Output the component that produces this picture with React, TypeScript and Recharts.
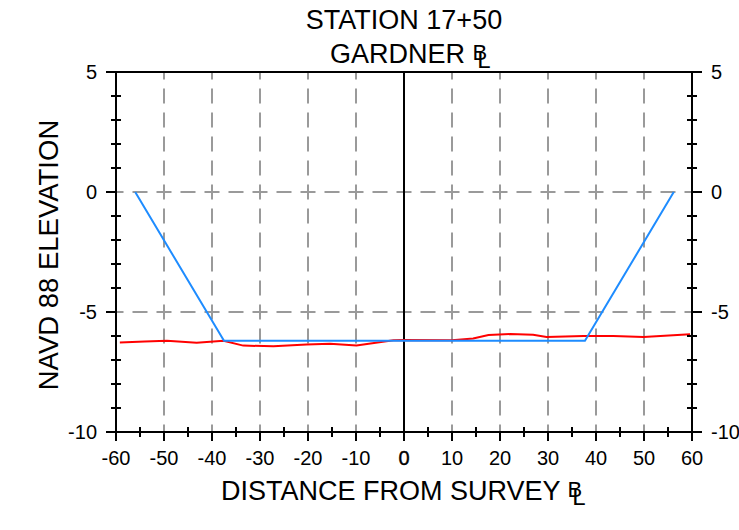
import React from 'react';
import { LineChart, Line, XAxis, YAxis, CartesianGrid, ReferenceLine } from 'recharts';

// existing ground (survey) profile
const groundDist = [-59.2, -54, -49.4, -43.2, -37.6, -33.5, -27.2, -20.3, -15.4, -9.9, -2.2, 0, 10, 14.4, 17.6, 22.1, 26.9, 29.7, 37.4, 43.6, 49.9, 59.6];
const groundElev = [-6.27, -6.23, -6.2, -6.28, -6.2, -6.4, -6.43, -6.35, -6.32, -6.4, -6.18, -6.17, -6.18, -6.1, -5.96, -5.92, -5.95, -6.04, -6.0, -6.0, -6.04, -5.93];

// design channel template
const designDist = [-56, -37.5, 37.7, 56.2];
const designElev = [0, -6.2, -6.2, 0];

const xTicks = [-60, -55, -50, -45, -40, -35, -30, -25, -20, -15, -10, -5, 0, 5, 10, 15, 20, 25, 30, 35, 40, 45, 50, 55, 60];
const yTicks = [5, 4, 3, 2, 1, 0, -1, -2, -3, -4, -5, -6, -7, -8, -9, -10];
const gridX = [-50, -40, -30, -20, -10, 10, 20, 30, 40, 50];
const gridY = [0, -5];

const ground = groundDist.map((x, i) => ({ x, y: groundElev[i] }));
const design = designDist.map((x, i) => ({ x, y: designElev[i] }));

const FONT = '"Liberation Sans", Arial, Helvetica, sans-serif';

const XTick = (props: any) => {
  const { x, y, payload } = props;
  const v = payload.value;
  const major = v % 10 === 0;
  return (
    <g>
      {major ? (
        <line x1={x} x2={x} y1={y} y2={y + 9} stroke="#000" strokeWidth={2} />
      ) : (
        <line x1={x} x2={x} y1={y - 5} y2={y + 5} stroke="#000" strokeWidth={2} />
      )}
      {major && (
        <text x={x} y={y + 33} textAnchor="middle" fontSize={20} fontFamily={FONT} fill="#000"
          stroke={v === 0 ? '#000' : 'none'} strokeWidth={v === 0 ? 0.4 : 0}>
          {v}
        </text>
      )}
    </g>
  );
};

const LeftTick = (props: any) => {
  const { x, y, payload } = props;
  const v = payload.value;
  const major = v % 5 === 0;
  return (
    <g>
      {major ? (
        <line x1={x - 10} x2={x} y1={y} y2={y} stroke="#000" strokeWidth={2} />
      ) : (
        <line x1={x - 5} x2={x + 5} y1={y} y2={y} stroke="#000" strokeWidth={2} />
      )}
      {major && (
        <text x={x - 19} y={y + 7} textAnchor="end" fontSize={20} fontFamily={FONT} fill="#000">{v}</text>
      )}
    </g>
  );
};

const RightTick = (props: any) => {
  const { x, y, payload } = props;
  const v = payload.value;
  const major = v % 5 === 0;
  return (
    <g>
      {major ? (
        <line x1={x} x2={x + 10} y1={y} y2={y} stroke="#000" strokeWidth={2} />
      ) : (
        <line x1={x - 5} x2={x + 5} y1={y} y2={y} stroke="#000" strokeWidth={2} />
      )}
      {major && (
        <text x={x + 19} y={y + 7} textAnchor="start" fontSize={20} fontFamily={FONT} fill="#000">{v}</text>
      )}
    </g>
  );
};

export default function App() {
  return (
    <div style={{ position: 'absolute', left: 0, top: 0, width: 739, height: 530, background: '#fff' }}>
      <LineChart width={739} height={530} margin={{ top: 72, right: 7, left: 56, bottom: 58 }}>
        <CartesianGrid
          yAxisId="left"
          verticalValues={gridX}
          horizontalValues={gridY}
          stroke="#9a9a9a"
          strokeWidth={2}
          strokeDasharray="15 9"
          strokeDashoffset={7.5}
        />
        <XAxis
          type="number"
          dataKey="x"
          domain={[-60, 60]}
          ticks={xTicks}
          interval={0}
          height={40}
          tickSize={0}
          tickMargin={0}
          tickLine={false}
          tick={<XTick />}
          axisLine={{ stroke: '#000', strokeWidth: 2 }}
          allowDataOverflow
        />
        <YAxis
          yAxisId="left"
          type="number"
          domain={[-10, 5]}
          ticks={yTicks}
          interval={0}
          width={60}
          tickSize={0}
          tickMargin={0}
          tickLine={false}
          tick={<LeftTick />}
          axisLine={{ stroke: '#000', strokeWidth: 2 }}
          allowDataOverflow
        />
        <YAxis
          yAxisId="right"
          orientation="right"
          type="number"
          domain={[-10, 5]}
          ticks={yTicks}
          interval={0}
          width={40}
          tickSize={0}
          tickMargin={0}
          tickLine={false}
          tick={<RightTick />}
          axisLine={{ stroke: '#000', strokeWidth: 2 }}
          allowDataOverflow
        />
        <ReferenceLine yAxisId="left" y={5} stroke="#000" strokeWidth={2} />
        <ReferenceLine yAxisId="left" x={0} stroke="#000" strokeWidth={2} />
        <Line yAxisId="left" data={ground} dataKey="y" type="linear" stroke="#ff0000" strokeWidth={2} dot={false} isAnimationActive={false} />
        <Line yAxisId="left" data={design} dataKey="y" type="linear" stroke="#1e8cff" strokeWidth={2} dot={false} isAnimationActive={false} />
      </LineChart>
      <svg width={739} height={530} style={{ position: 'absolute', left: 0, top: 0, pointerEvents: 'none' }}>
        <g fontFamily={FONT} fill="#000">
          <text x={404} y={29} textAnchor="middle" fontSize={27}>STATION 17+50</text>
          <text x={330} y={63} textAnchor="start" fontSize={27}>
            GARDNER{' '}
            <tspan fontSize={22} dy={-3}>B</tspan>
            <tspan fontSize={24} dx={-10} dy={8}>L</tspan>
          </text>
          <text x={221} y={500} textAnchor="start" fontSize={27}>
            DISTANCE FROM SURVEY{' '}
            <tspan fontSize={22} dy={-3}>B</tspan>
            <tspan fontSize={24} dx={-10} dy={8}>L</tspan>
          </text>
          <text transform="translate(58,255) rotate(-90)" textAnchor="middle" fontSize={27.5}>NAVD 88 ELEVATION</text>
        </g>
      </svg>
    </div>
  );
}
